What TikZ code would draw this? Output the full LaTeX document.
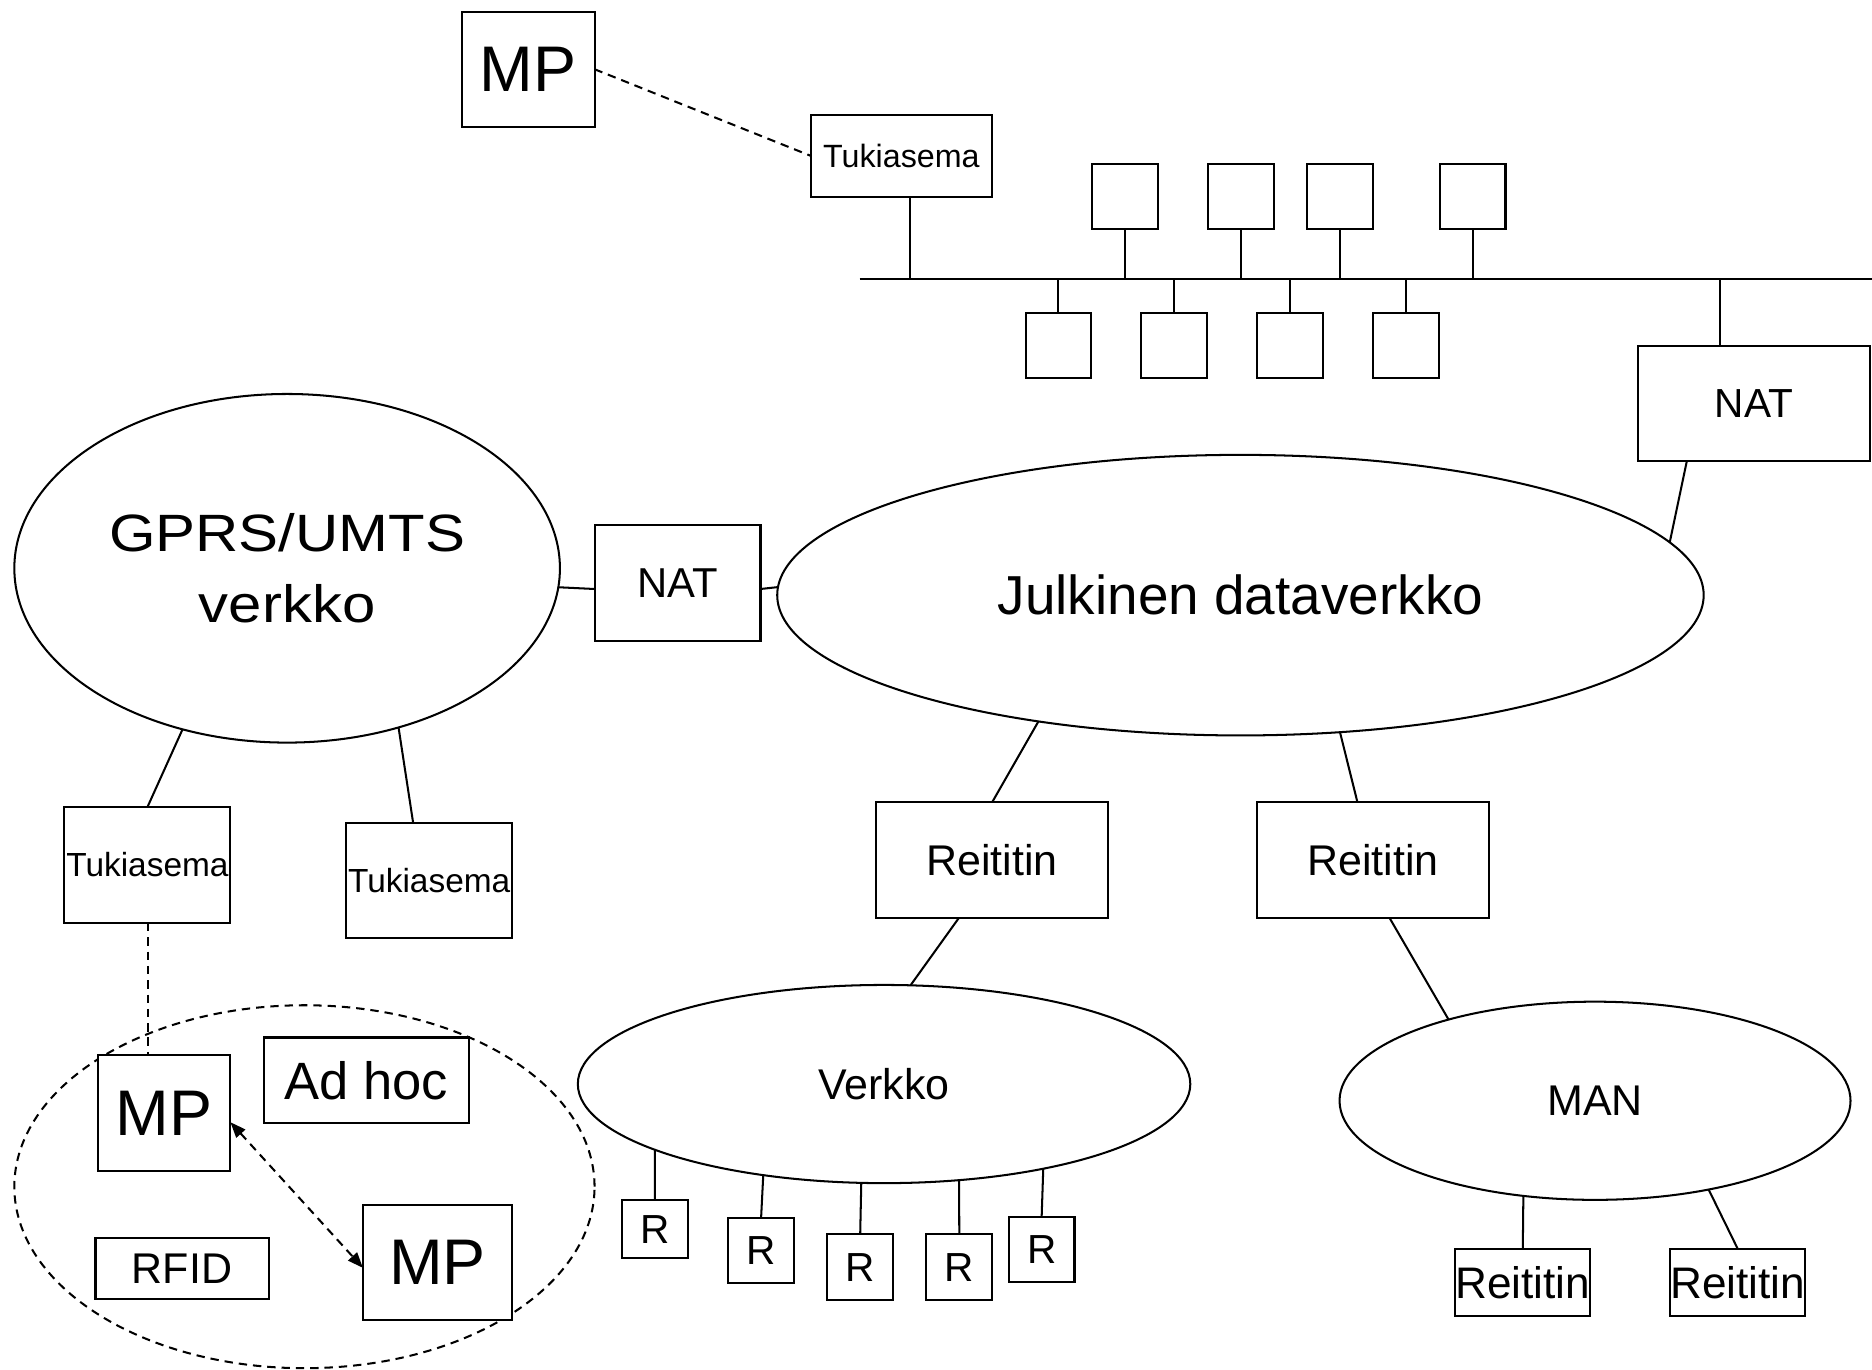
\documentclass[tikz,border=0pt]{standalone}
\usepackage{fontspec}
\setmainfont{Liberation Sans}
\usetikzlibrary{shapes.geometric,arrows.meta,calc}
\tikzset{
  bx/.style={draw, rectangle, fill=white, line width=1.7pt, inner sep=0pt, outer sep=0pt, align=center},
  el/.style={draw, ellipse, line width=1.7pt, inner sep=0pt, outer sep=0pt, align=center},
  ln/.style={line width=1.7pt},
  dl/.style={line width=1.7pt, dash pattern=on 7pt off 5pt},
  sq/.style={bx, minimum width=55pt, minimum height=55pt},
  rbox/.style={bx, minimum width=55pt, minimum height=55pt, font=\fontsize{34}{40}\selectfont},
  mytip/.tip={Triangle[length=13pt,width=10pt]}
}
\begin{document}
\begin{tikzpicture}[x=1pt,y=-1pt]
\fill[white] (0,0) rectangle (1568,1147);
\useasboundingbox (0,0) rectangle (1568,1147);

% dashed ad hoc ellipse (behind)
\node[el, dl, minimum width=486pt, minimum height=304pt] (adhocell) at (255,994) {};

% top area
\node[bx, minimum width=111pt, minimum height=96pt, font=\fontsize{54}{64}\selectfont] (mptop) at (442.5,58) {MP};
\node[bx, minimum width=152pt, minimum height=69pt, font=\fontsize{27}{32}\selectfont] (tuktop) at (755,130.5) {Tukiasema};
\coordinate (busL) at (720,234);
\coordinate (busR) at (1568,234);
\draw[ln] (busL) -- (busR);
\node[sq] (t1) at (942.5,164.5) {};
\node[sq] (t2) at (1039.5,164.5) {};
\node[sq] (t3) at (1122.5,164.5) {};
\node[sq] (t4) at (1233.5,164.5) {};
\node[sq] (b1) at (886.5,289.5) {};
\node[sq] (b2) at (983.5,289.5) {};
\node[sq] (b3) at (1080.5,289.5) {};
\node[sq] (b4) at (1177.5,289.5) {};
\foreach \n in {t1,t2,t3,t4} \draw[ln] (\n.south) -- (\n.south |- busL);
\foreach \n in {b1,b2,b3,b4} \draw[ln] (\n.north) -- (\n.north |- busL);
\draw[dl] (mptop.east) -- (tuktop.west);
\coordinate (tukA) at ($(tuktop.south west)!0.546!(tuktop.south east)$);
\draw[ln] (tukA) -- (tukA |- busL);

\node[bx, minimum width=194pt, minimum height=96pt, font=\fontsize{34}{40}\selectfont] (nat2) at (1469,338) {NAT};
\coordinate (nat2A) at ($(nat2.north west)!0.356!(nat2.north east)$);
\draw[ln] (nat2A) -- (nat2A |- busL);

% middle
\node[el, minimum width=457pt, minimum height=292pt, font=\fontsize{44}{60}\selectfont] (gprs) at (240.5,476) {\scalebox{1.14}[1]{GPRS/UMTS}\\\scalebox{1.14}[1]{verkko}};
\node[bx, minimum width=139pt, minimum height=97pt, font=\fontsize{35}{42}\selectfont] (nat1) at (567.5,488.5) {NAT};
\node[el, minimum width=776pt, minimum height=235pt, font=\fontsize{46}{55}\selectfont] (jul) at (1039,498.5) {Julkinen dataverkko};
\coordinate (nat2B) at ($(nat2.south west)!0.211!(nat2.south east)$);
\draw[ln] (nat2B) -- (jul.7.2);
\coordinate (n1L) at ($(nat1.north west)!0.55!(nat1.south west)$);
\coordinate (n1R) at ($(nat1.north east)!0.55!(nat1.south east)$);
\draw[ln] (gprs.-4.9) -- (n1L);
\draw[ln] (n1R) -- (jul.179.3);

\node[bx, minimum width=194pt, minimum height=97pt, font=\fontsize{36}{43}\selectfont] (reit1) at (831,720.5) {Reititin};
\node[bx, minimum width=194pt, minimum height=97pt, font=\fontsize{36}{43}\selectfont] (reit2) at (1150,720.5) {Reititin};
\node[bx, minimum width=139pt, minimum height=97pt, font=\fontsize{28}{34}\selectfont] (tuk1) at (123.5,724.5) {Tukiasema};
\node[bx, minimum width=139pt, minimum height=97pt, font=\fontsize{28}{34}\selectfont] (tuk2) at (359.5,737.5) {Tukiasema};

\draw[ln] (jul.-148) -- (reit1.north);
\coordinate (r2N) at ($(reit2.north west)!0.433!(reit2.north east)$);
\draw[ln] (jul.-54.1) -- (r2N);
\draw[ln] (gprs.-123.8) -- (tuk1.north);
\coordinate (t2N) at ($(tuk2.north west)!0.403!(tuk2.north east)$);
\draw[ln] (gprs.-55.9) -- (t2N);

% bottom left
\node[bx, minimum width=111pt, minimum height=97pt, font=\fontsize{54}{64}\selectfont] (mp1) at (137.5,932.5) {MP};
\node[bx, minimum width=172pt, minimum height=72pt, font=\fontsize{44}{52}\selectfont] (adhoc) at (307,905) {Ad hoc};
\node[bx, minimum width=145pt, minimum height=51pt, font=\fontsize{36}{43}\selectfont] (rfid) at (152.5,1062.5) {RFID};
\node[bx, minimum width=125pt, minimum height=97pt, font=\fontsize{54}{64}\selectfont] (mp2) at (366.5,1057.5) {MP};
\coordinate (t1S) at ($(tuk1.south west)!0.5!(tuk1.south east)+(0.5,0)$);
\draw[dl] (t1S) -- (t1S |- mp1.north);
\coordinate (m1E) at ($(mp1.north east)!0.577!(mp1.south east)$);
\coordinate (m2W) at ($(mp2.north west)!0.546!(mp2.south west)$);
\draw[dl, mytip-mytip] (m1E) -- (m2W);

% Verkko
\node[el, minimum width=513pt, minimum height=166pt, font=\fontsize{36}{43}\selectfont] (verkko) at (740.5,908) {Verkko};
\coordinate (r1S) at ($(reit1.south west)!0.356!(reit1.south east)$);
\draw[ln] (r1S) -- (verkko.75.4);
\node[rbox, minimum height=49pt] (r1) at (548.5,1029.5) {R};
\node[rbox] (r2) at (637.5,1047.5) {R};
\node[rbox] (r3) at (720.5,1061.5) {R};
\node[rbox] (r4) at (803.5,1061.5) {R};
\node[rbox] (r5) at (872.5,1046.5) {R};
\draw[ln] (verkko.-164) -- (r1.north);
\draw[ln] (verkko.-143.6) -- (r2.north);
\draw[ln] (verkko.-103.6) -- (r3.north);
\draw[ln] (verkko.-52) -- (r4.north);
\draw[ln] (verkko.-28.3) -- (r5.north);

% MAN
\node[el, minimum width=428pt, minimum height=166pt, font=\fontsize{36}{43}\selectfont] (man) at (1336,922) {MAN};
\coordinate (r2S) at ($(reit2.south west)!0.572!(reit2.south east)$);
\draw[ln] (r2S) -- (man.151.7);
\node[bx, minimum width=111pt, minimum height=56pt, font=\fontsize{37}{44}\selectfont] (rr1) at (1275.5,1074) {Reititin};
\node[bx, minimum width=111pt, minimum height=56pt, font=\fontsize{37}{44}\selectfont] (rr2) at (1455.5,1074) {Reititin};
\draw[ln] (man.-127.2) -- (rr1.north);
\draw[ln] (man.-38.3) -- (rr2.north);
\end{tikzpicture}
\end{document}
